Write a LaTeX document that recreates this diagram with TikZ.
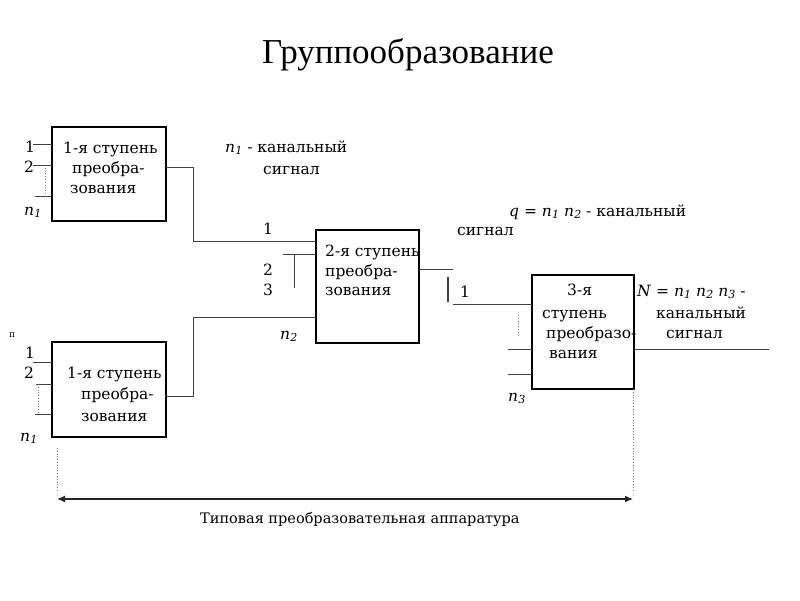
\documentclass[tikz,border=0pt]{standalone}
\usepackage{fontspec}
\setmainfont{Liberation Serif}
\newfontfamily\bodyfont{DejaVu Serif}
\usetikzlibrary{arrows.meta}
\newcommand\nsub[1]{\textit{n}\kern0.2pt\raisebox{-0.18em}{\fontsize{11}{11}\selectfont\textit{#1}}}
\begin{document}
\begin{tikzpicture}[x=1pt,y=-1pt,
  blk/.style={draw=black,line width=2.4pt,inner sep=0pt,outer sep=0pt},
  txt/.style={anchor=base west,inner sep=0pt,text=black,font=\bodyfont\fontsize{15.5}{15.5}\selectfont},
  wire/.style={draw=black!75,line width=1pt},
  dots/.style={draw=black!55,line width=0.8pt,dotted},
  dim/.style={draw=black!85,line width=1.3pt,{Latex[length=8pt,width=7pt]}-{Latex[length=8pt,width=7pt]}}]
\useasboundingbox (0,0) rectangle (800,600);
\fill[white] (0,0) rectangle (800,600);
% title
\node[anchor=base,inner sep=0pt,font=\fontsize{35}{35}\selectfont] (title) at (408,63) {Группообразование};
% boxes
\node[blk,minimum width=114pt,minimum height=94pt] (b1) at (109,174) {};
\node[blk,minimum width=114pt,minimum height=95pt] (b4) at (109,389.5) {};
\node[blk,minimum width=103pt,minimum height=113pt] (b2) at (367.5,286.5) {};
\node[blk,minimum width=102pt,minimum height=114pt] (b3) at (583,332) {};
% box texts
\node[txt] (t1a) at (63,153) {1-я ступень};
\node[txt] (t1b) at (72,173) {преобра-};
\node[txt] (t1c) at (70,193) {зования};
\node[txt] (t4a) at (67,378) {1-я ступень};
\node[txt] (t4b) at (81,399) {преобра-};
\node[txt] (t4c) at (81,421) {зования};
\node[txt] (t2a) at (325,256) {2-я ступень};
\node[txt] (t2b) at (325,276) {преобра-};
\node[txt] (t2c) at (325,295) {зования};
\node[txt] (t3a) at (567,295) {3-я};
\node[txt] (t3b) at (542,318) {ступень};
\node[txt] (t3c) at (546,338) {преобразо-};
\node[txt] (t3d) at (549,358) {вания};
% side labels
\node[txt] (l11) at (25,152) {1};
\node[txt] (l12) at (24,172) {2};
\node[txt] (l1n) at (24,215) {\nsub{1}};
\node[txt,font=\bodyfont\fontsize{9}{9}\selectfont] (l4p) at (9,337) {п};
\node[txt] (l41) at (25,358) {1};
\node[txt] (l42) at (24,378) {2};
\node[txt] (l4n) at (20,441) {\nsub{1}};
\node[txt] (l21) at (263,234) {1};
\node[txt] (l22) at (263,275) {2};
\node[txt] (l23) at (263,295) {3};
\node[txt] (l2n) at (280,339) {\nsub{2}};
\node[txt] (l31) at (460,297) {1};
\node[txt] (l3n) at (508,401) {\nsub{3}};
% signal labels
\node[txt] (s1a) at (225,152) {\nsub{1} - канальный};
\node[txt] (s1b) at (263,174) {сигнал};
\node[txt] (s2a) at (509,216) {\textit{q} = \nsub{1} \nsub{2} - канальный};
\node[txt] (s2b) at (457,235) {сигнал};
\node[txt] (s3a) at (637,296) {\textit{N} = \nsub{1} \nsub{2} \nsub{3} -};
\node[txt] (s3b) at (656,318) {канальный};
\node[txt] (s3c) at (666,338) {сигнал};
% inputs of box 1
\draw[wire] (33,144) -- (b1.west |- 0,144);
\draw[wire] (33,165) -- (b1.west |- 0,165);
\draw[wire] (35,196) -- (b1.west |- 0,196);
\draw[dots] (45,165) -- (45,196);
% inputs of box 4
\draw[wire] (33,362) -- (b4.west |- 0,362);
\draw[wire] (36,384) -- (b4.west |- 0,384);
\draw[wire] (35,414) -- (b4.west |- 0,414);
\draw[dots] (38,384) -- (38,414);
% box 1 / box 4 to box 2
\draw[wire] (b1.east |- 0,167) -- (193,167) -- (193,241) -- (b2.west |- 0,241);
\draw[wire] (b4.east |- 0,396) -- (193,396) -- (193,317) -- (b2.west |- 0,317);
\draw[wire] (283,254) -- (b2.west |- 0,254);
\draw[wire] (294,254) -- (294,288);
% box 2 to box 3
\draw[wire] (b2.east |- 0,269) -- (453,269);
\draw[wire,line width=1.5pt] (448,277) -- (448,302);
\draw[wire] (453,304) -- (b3.west |- 0,304);
\draw[dots] (518,315) -- (518,337);
\draw[wire] (508,349) -- (b3.west |- 0,349);
\draw[wire] (508,374) -- (b3.west |- 0,374);
\draw[wire] (b3.east |- 0,349) -- (769,349);
% dimension
\coordinate (dl) at (57,499);
\coordinate (dr) at (633,499);
\draw[dots] (57,448) -- (57,492);
\draw[dots] (b3.south -| 633,0) -- (633,492);
\draw[dim] (dl) -- (dr);
\node[txt,font=\bodyfont\fontsize{14.5}{14.5}\selectfont] (dimlab) at (200,523) {Типовая преобразовательная аппаратура};
\end{tikzpicture}
\end{document}
